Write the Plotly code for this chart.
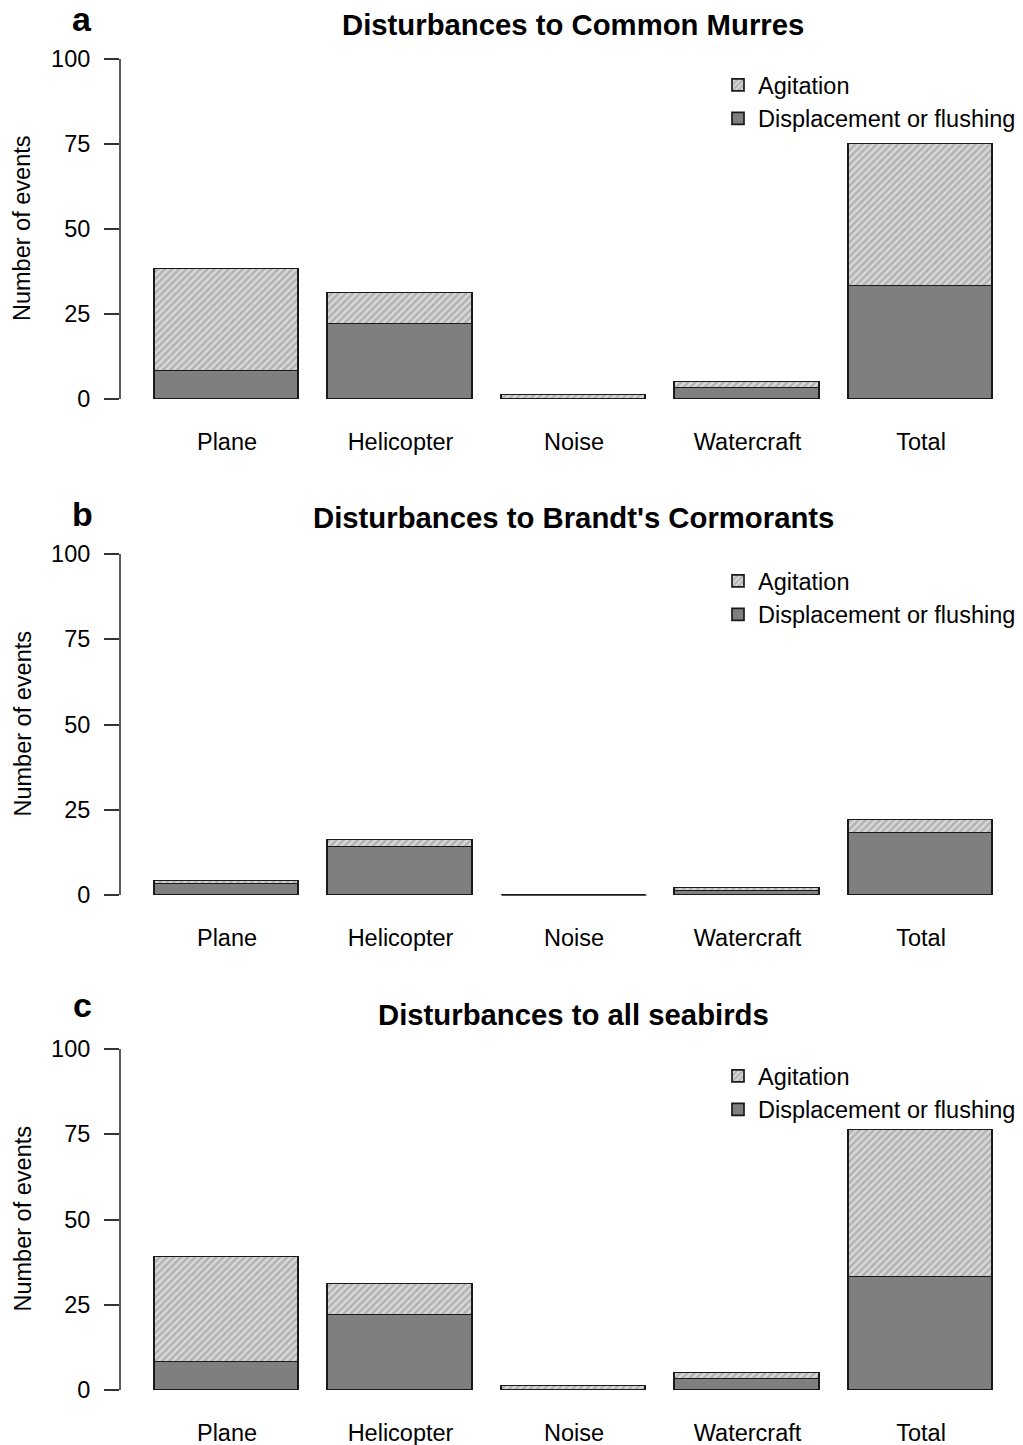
import plotly.graph_objects as go

# ---------------- data ----------------
categories = ["Plane", "Helicopter", "Noise", "Watercraft", "Total"]
panel_titles = ["Disturbances to Common Murres",
                "Disturbances to Brandt's Cormorants",
                "Disturbances to all seabirds"]
panel_letters = ["a", "b", "c"]

murres_displacement = [8, 22, 0, 3, 33]
murres_agitation = [30, 9, 1, 2, 42]
cormorants_displacement = [3, 14, 0, 1, 18]
cormorants_agitation = [1, 2, 0, 1, 4]
seabirds_displacement = [8, 22, 0, 3, 33]
seabirds_agitation = [31, 9, 1, 2, 43]

y_ticks = [0, 25, 50, 75, 100]
y_title = "Number of events"
legend_names = ["Displacement or flushing", "Agitation"]

panels = [
    (murres_displacement, murres_agitation),
    (cormorants_displacement, cormorants_agitation),
    (seabirds_displacement, seabirds_agitation),
]

# ---------------- geometry / style ----------------
W, H = 1023, 1445
FONT = "Liberation Sans, Arial, Helvetica, sans-serif"
BASE = 23.5
zero_px = [399, 895, 1390]
hundred_px = [59, 554, 1049]
title_px = [24, 518, 1014]
letter_px = [19, 514, 1005]
legend_top_px = [63, 559, 1054]
YMIN, YMAX = -4, 104
bar_width = 1.0
x_pos = [0.7 + 1.2 * i for i in range(len(categories))]  # R barplot positions
XMIN, XMAX = -0.04, 6.205
x_left_px = 120

DISP_COLOR = "#7f7f7f"
OUTLINE = "#1a1a1a"

fig = go.Figure()
annotations = []
shapes = []
layout_axes = {}

for i, (disp, agit) in enumerate(panels):
    n = i + 1
    xa = "x" if n == 1 else f"x{n}"
    ya = "y" if n == 1 else f"y{n}"
    lg = "legend" if n == 1 else f"legend{n}"

    ppu = (zero_px[i] - hundred_px[i]) / 100.0
    top_px = hundred_px[i] - (YMAX - 100) * ppu
    bot_px = zero_px[i] + (0 - YMIN) * ppu
    ydom = [1 - bot_px / H, 1 - top_px / H]

    fig.add_trace(go.Bar(
        x=x_pos, y=disp, width=bar_width, name=legend_names[0],
        xaxis=xa, yaxis=ya, legend=lg,
        marker=dict(color=DISP_COLOR, line=dict(color=OUTLINE, width=1.7)),
        hoverinfo="skip",
    ))
    fig.add_trace(go.Bar(
        x=x_pos, y=agit, width=bar_width, name=legend_names[1],
        xaxis=xa, yaxis=ya, legend=lg,
        marker=dict(color="#d4d4d4",
                    line=dict(color=OUTLINE, width=1.7),
                    pattern=dict(shape="/", fgcolor="#8c8c8c", bgcolor="#d8d8d8",
                                 size=5, solidity=0.5)),
        hoverinfo="skip",
    ))
    # zero-height bars are drawn by R as a flat outline: reproduce from data
    for xc, d, a in zip(x_pos, disp, agit):
        if d + a == 0:
            fig.add_trace(go.Scatter(
                x=[xc - bar_width / 2, xc + bar_width / 2], y=[d + a, d + a],
                mode="lines", line=dict(color=OUTLINE, width=1.7),
                xaxis=xa, yaxis=ya, showlegend=False, hoverinfo="skip",
            ))

    layout_axes[("xaxis" if n == 1 else f"xaxis{n}")] = dict(
        domain=[x_left_px / W, 1], range=[XMIN, XMAX], anchor=ya,
        tickvals=x_pos, ticktext=categories, showline=False, showgrid=False,
        zeroline=False, ticks="outside", ticklen=8, tickcolor="rgba(0,0,0,0)",
        automargin=False,
        tickfont=dict(family=FONT, size=BASE, color="#000"), fixedrange=True,
    )
    layout_axes[("yaxis" if n == 1 else f"yaxis{n}")] = dict(
        domain=ydom, range=[YMIN, YMAX], anchor=xa,
        tickvals=y_ticks, showline=False, showgrid=False, zeroline=False,
        ticks="outside", ticklen=15, tickwidth=1.6, tickcolor="#333",
        ticklabelstandoff=9, automargin=False,
        tickfont=dict(family=FONT, size=BASE, color="#000"), fixedrange=True,
    )
    # R style axis line from 0 to 100 only
    shapes.append(dict(type="line", xref=f"{xa} domain", yref=ya,
                       x0=0, x1=0, y0=y_ticks[0], y1=y_ticks[-1],
                       line=dict(color="#333", width=1.6)))

    layout_axes[lg] = dict(
        x=718 / W, y=1 - legend_top_px[i] / H,
        xanchor="left", yanchor="top", traceorder="reversed",
        bgcolor="rgba(0,0,0,0)", font=dict(family=FONT, size=BASE, color="#000"),
        tracegroupgap=0,
    )

    annotations.append(dict(text=f"<b>{panel_titles[i]}</b>", xref="paper", yref="paper",
                            x=573 / W, y=1 - title_px[i] / H, xanchor="center",
                            yanchor="middle", showarrow=False,
                            font=dict(family=FONT, size=29.3, color="#000")))
    annotations.append(dict(text=f"<b>{panel_letters[i]}</b>", xref="paper", yref="paper",
                            x=82 / W, y=1 - letter_px[i] / H, xanchor="center",
                            yanchor="middle", showarrow=False,
                            font=dict(family=FONT, size=34, color="#000")))
    annotations.append(dict(text=y_title, xref="paper", yref="paper",
                            x=22 / W, y=1 - ((zero_px[i] + hundred_px[i]) / 2) / H,
                            xanchor="center", yanchor="middle", textangle=-90,
                            showarrow=False,
                            font=dict(family=FONT, size=BASE, color="#000")))

fig.update_layout(
    width=W, height=H, margin=dict(l=0, r=0, t=0, b=0, autoexpand=False),
    paper_bgcolor="white", plot_bgcolor="white",
    barmode="stack", bargap=0, showlegend=True,
    annotations=annotations, shapes=shapes,
    **layout_axes,
)

fig.write_html("out.html")
